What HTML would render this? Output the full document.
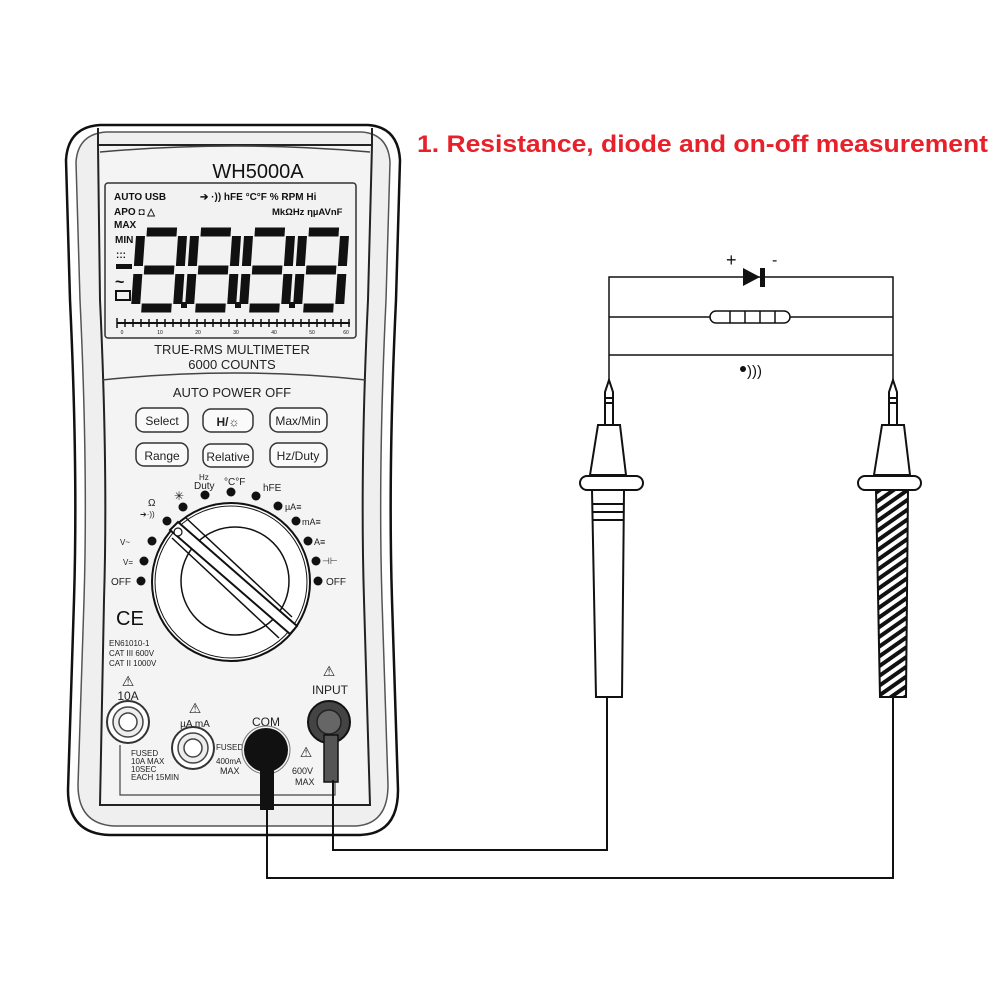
<!DOCTYPE html>
<html><head><style>html,body{margin:0;padding:0;background:#fff}svg{display:block}text{font-family:"Liberation Sans",sans-serif}</style></head><body>
<svg width="1001" height="1001" viewBox="0 0 1001 1001" xmlns="http://www.w3.org/2000/svg">
<defs><pattern id="h" width="8" height="8" patternUnits="userSpaceOnUse" patternTransform="rotate(-35)"><rect width="8" height="8" fill="#fff"/><rect width="8" height="4" fill="#111"/></pattern>
<g id="d" stroke="#111" stroke-width="9" stroke-linecap="butt" fill="none">
<path d="M6 0 H36 M6 38 H36 M6 76 H36 M0 4 V34 M42 4 V34 M0 42 V72 M42 42 V72"/>
</g></defs>
<!-- body -->
<path d="M100 125 H368 Q398 127 400 160 L396 300 Q388 470 392 600 L398 790 Q398 834 360 835 H110 Q68 834 68 790 L74 600 Q78 470 70 300 L66 160 Q68 127 100 125 Z" fill="#fff" stroke="#111" stroke-width="2.5"/>
<path d="M106 132 H362 Q388 134 390 162 L386 300 Q378 470 382 600 L388 785 Q388 824 356 826 H114 Q78 824 78 785 L84 600 Q88 470 80 300 L76 162 Q78 134 106 132 Z" fill="#efefef" stroke="#555" stroke-width="1.5"/>
<path d="M98 145 H372 L368 300 Q360 470 364 600 L370 805 H100 L104 600 Q108 470 100 300 Z" fill="#f4f4f4" stroke="#222" stroke-width="2"/>
<path d="M98 145 L98 128 M372 145 L372 128" stroke="#222" stroke-width="2"/>
<path d="M100 152 Q235 140 370 152" fill="none" stroke="#444" stroke-width="1.5"/>
<text x="258" y="178" font-size="20" text-anchor="middle" fill="#111">WH5000A</text>
<!-- display -->
<rect x="105" y="183" width="251" height="155" rx="3" fill="#f2f2f2" stroke="#333" stroke-width="1.5"/>
<text x="114" y="200" font-size="10" font-weight="bold" fill="#111">AUTO USB</text>
<text x="200" y="200" font-size="10" font-weight="bold" fill="#111">➔ ·)) hFE °C°F % RPM Hi</text>
<text x="114" y="215" font-size="10" font-weight="bold" fill="#111">APO ◘ △</text>
<text x="272" y="215" font-size="9.5" font-weight="bold" fill="#111">MkΩHz ηµAVnF</text>
<text x="114" y="228" font-size="10" font-weight="bold" fill="#111">MAX</text>
<text x="115" y="243" font-size="10" font-weight="bold" fill="#111">MIN</text>
<text x="116" y="258" font-size="10" font-weight="bold" fill="#111">:::</text>
<rect x="116" y="264" width="16" height="5" fill="#111"/>
<text x="115" y="287" font-size="16" font-weight="bold" fill="#111">~</text>
<rect x="116" y="291" width="14" height="9" fill="none" stroke="#111" stroke-width="2"/>
<g transform="skewX(-4)">
<use href="#d" x="157" y="232"/><use href="#d" x="211" y="232"/><use href="#d" x="265" y="232"/><use href="#d" x="319" y="232"/>
</g>
<rect x="181" y="302" width="6" height="6" fill="#111"/><rect x="235" y="302" width="6" height="6" fill="#111"/><rect x="289" y="302" width="6" height="6" fill="#111"/>
<line x1="117" y1="323" x2="350" y2="323" stroke="#111" stroke-width="2"/>
<path d="M117 318 V328 M125 319 V327 M133 319 V327 M141 319 V327 M149 319 V327 M157 319 V327 M165 319 V327 M173 319 V327 M181 319 V327 M189 319 V327 M197 319 V327 M205 319 V327 M213 319 V327 M221 319 V327 M229 319 V327 M237 319 V327 M245 319 V327 M253 319 V327 M261 319 V327 M269 319 V327 M277 319 V327 M285 319 V327 M293 319 V327 M301 319 V327 M309 319 V327 M317 319 V327 M325 319 V327 M333 319 V327 M341 319 V327 M349 319 V327" stroke="#111" stroke-width="1.5"/>
<g font-size="5" fill="#111" text-anchor="middle"><text x="122" y="334">0</text><text x="160" y="334">10</text><text x="198" y="334">20</text><text x="236" y="334">30</text><text x="274" y="334">40</text><text x="312" y="334">50</text><text x="346" y="334">60</text></g>
<text x="232" y="354" font-size="13" text-anchor="middle" fill="#222">TRUE-RMS MULTIMETER</text>
<text x="232" y="369" font-size="13" text-anchor="middle" fill="#222">6000 COUNTS</text>
<path d="M102 380 Q235 366 366 380" fill="none" stroke="#444" stroke-width="1.5"/>
<text x="232" y="397" font-size="13" text-anchor="middle" fill="#222">AUTO POWER OFF</text>
<!-- buttons -->
<g fill="#fafafa" stroke="#333" stroke-width="1.5">
<rect x="136" y="408" width="52" height="24" rx="8"/><rect x="203" y="409" width="50" height="23" rx="8"/><rect x="270" y="408" width="57" height="24" rx="8"/>
<rect x="136" y="443" width="52" height="23" rx="8"/><rect x="203" y="444" width="50" height="23" rx="8"/><rect x="270" y="443" width="57" height="24" rx="8"/>
</g>
<g font-size="12" fill="#222" text-anchor="middle">
<text x="162" y="425">Select</text><text x="228" y="426" font-weight="bold">H/☼</text><text x="298" y="425">Max/Min</text>
<text x="162" y="460">Range</text><text x="228" y="461">Relative</text><text x="298" y="460">Hz/Duty</text>
</g>
<!-- dial -->
<circle cx="231" cy="582" r="79" fill="#fff" stroke="#111" stroke-width="2"/>
<circle cx="231" cy="582" r="76" fill="none" stroke="#111" stroke-width="1"/>
<circle cx="235" cy="581" r="54" fill="#fff" stroke="#111" stroke-width="1.5"/>
<path d="M178 522 L297 626 L290 634 L170 530 Z" fill="#fff" stroke="#111" stroke-width="2"/>
<path d="M172 538 L279 638 M186 518 L292 617" stroke="#111" stroke-width="1.5"/>
<circle cx="178" cy="532" r="4" fill="#fff" stroke="#111" stroke-width="1.2"/>
<g fill="#111">
<circle cx="141" cy="581" r="4.5"/><circle cx="144" cy="561" r="4.5"/><circle cx="152" cy="541" r="4.5"/><circle cx="167" cy="521" r="4.5"/><circle cx="183" cy="507" r="4.5"/><circle cx="205" cy="495" r="4.5"/><circle cx="231" cy="492" r="4.5"/><circle cx="256" cy="496" r="4.5"/><circle cx="278" cy="506" r="4.5"/><circle cx="296" cy="521" r="4.5"/><circle cx="308" cy="541" r="4.5"/><circle cx="316" cy="561" r="4.5"/><circle cx="318" cy="581" r="4.5"/>
</g>
<g font-size="10" fill="#222">
<text x="111" y="585">OFF</text><text x="123" y="565" font-size="8">V=</text><text x="120" y="545" font-size="8">V~</text>
<text x="148" y="506" font-size="10">Ω</text><text x="140" y="517" font-size="8">➔·))</text><text x="174" y="500" font-size="12">✳</text>
<text x="199" y="480" font-size="8">Hz</text><text x="194" y="489">Duty</text><text x="224" y="485">°C°F</text><text x="263" y="491">hFE</text>
<text x="285" y="510" font-size="9">µA≡</text><text x="302" y="525" font-size="9">mA≡</text><text x="314" y="545" font-size="9">A≡</text><text x="322" y="564" font-size="9">⊣⊢</text><text x="326" y="585">OFF</text>
</g>
<text x="116" y="625" font-size="20" fill="#111">CE</text>
<text x="109" y="646" font-size="8" fill="#222">EN61010-1</text>
<text x="109" y="656" font-size="8" fill="#222">CAT III 600V</text>
<text x="109" y="666" font-size="8" fill="#222">CAT II 1000V</text>
<!-- jacks -->
<text x="128" y="686" font-size="14" text-anchor="middle" fill="#222">⚠</text>
<text x="128" y="700" font-size="12" text-anchor="middle" fill="#222">10A</text>
<circle cx="128" cy="722" r="21" fill="#fff" stroke="#333" stroke-width="2"/><circle cx="128" cy="722" r="15" fill="#eee" stroke="#444" stroke-width="1.5"/><circle cx="128" cy="722" r="9" fill="#fff" stroke="#444" stroke-width="1.5"/>
<text x="195" y="713" font-size="14" text-anchor="middle" fill="#222">⚠</text>
<text x="195" y="727" font-size="10" text-anchor="middle" fill="#222">µA  mA</text>
<circle cx="193" cy="748" r="21" fill="#fff" stroke="#333" stroke-width="2"/><circle cx="193" cy="748" r="15" fill="#eee" stroke="#444" stroke-width="1.5"/><circle cx="193" cy="748" r="9" fill="#fff" stroke="#444" stroke-width="1.5"/>
<path d="M120 745 V795 H335 V742" fill="none" stroke="#444" stroke-width="1.2"/>
<text x="131" y="756" font-size="8" fill="#222">FUSED</text><text x="131" y="764" font-size="8" fill="#222">10A MAX</text><text x="131" y="772" font-size="8" fill="#222">10SEC</text><text x="131" y="780" font-size="8" fill="#222">EACH 15MIN</text>
<text x="216" y="750" font-size="8" fill="#222">FUSED</text><text x="216" y="764" font-size="8" fill="#222">400mA</text><text x="220" y="774" font-size="9" fill="#222">MAX</text>
<text x="266" y="726" font-size="12" text-anchor="middle" fill="#222">COM</text>
<text x="329" y="676" font-size="14" text-anchor="middle" fill="#222">⚠</text>
<text x="330" y="694" font-size="12" text-anchor="middle" fill="#222">INPUT</text>
<text x="306" y="757" font-size="14" text-anchor="middle" fill="#222">⚠</text>
<text x="292" y="774" font-size="9" fill="#222">600V</text><text x="295" y="785" font-size="9" fill="#222">MAX</text>
<circle cx="329" cy="722" r="21" fill="#444" stroke="#111" stroke-width="2"/><circle cx="329" cy="722" r="12" fill="#666" stroke="#222" stroke-width="1.5"/>
<rect x="324" y="735" width="14" height="47" fill="#555" stroke="#111" stroke-width="1.5"/>
<circle cx="266" cy="750" r="22" fill="#111"/><circle cx="266" cy="750" r="24" fill="none" stroke="#777" stroke-width="1"/>
<rect x="260" y="760" width="14" height="50" fill="#111"/>
<!-- wires -->
<path d="M267 808 V878 H893 V695" fill="none" stroke="#111" stroke-width="2"/>
<path d="M333 780 V850 H607 V695" fill="none" stroke="#111" stroke-width="2"/>
<!-- circuit -->
<g fill="none" stroke="#111" stroke-width="1.5">
<path d="M609 385 V277 H893 V385"/>
<path d="M609 317 H711 M789 317 H893"/>
<path d="M609 355 H893"/>
<rect x="710" y="311" width="80" height="12" rx="6" fill="#fff"/>
<path d="M730 311 V323 M745 311 V323 M760 311 V323 M775 311 V323"/>
</g>
<path d="M743 268 L760 277 L743 286 Z" fill="#111"/><rect x="760" y="268" width="5" height="19" fill="#111"/>
<text x="726" y="266" font-size="18" fill="#111">+</text><text x="772" y="265" font-size="16" fill="#111">-</text>
<circle cx="743" cy="369" r="3" fill="#111"/>
<text x="747" y="376" font-size="15" fill="#111">)))</text>
<!-- left probe -->
<g stroke="#111" stroke-width="2" fill="#fff">
<path d="M609 380 L605 392 V425 H613 V392 Z"/>
<path d="M598 425 H620 L626 475 H590 Z"/>
<rect x="580" y="476" width="63" height="14" rx="7"/>
<path d="M592 490 H624 L622 697 H596 Z"/>
<path d="M593 504 H623 M593 512 H623 M593 520 H623"/>
<path d="M605 398 H613 M605 403 H613"/>
</g>
<!-- right probe -->
<g stroke="#111" stroke-width="2" fill="#fff">
<path d="M893 380 L889 392 V425 H897 V392 Z"/>
<path d="M882 425 H904 L910 475 H874 Z"/>
<rect x="858" y="476" width="63" height="14" rx="7"/>
<path d="M876 490 H908 L906 697 H880 Z" fill="url(#h)"/>
<path d="M889 398 H897 M889 403 H897"/>
</g>
<text x="417" y="152" font-size="24" font-weight="bold" fill="#e8202a" textLength="571" lengthAdjust="spacingAndGlyphs">1. Resistance, diode and on-off measurement</text>
</svg>
</body></html>
